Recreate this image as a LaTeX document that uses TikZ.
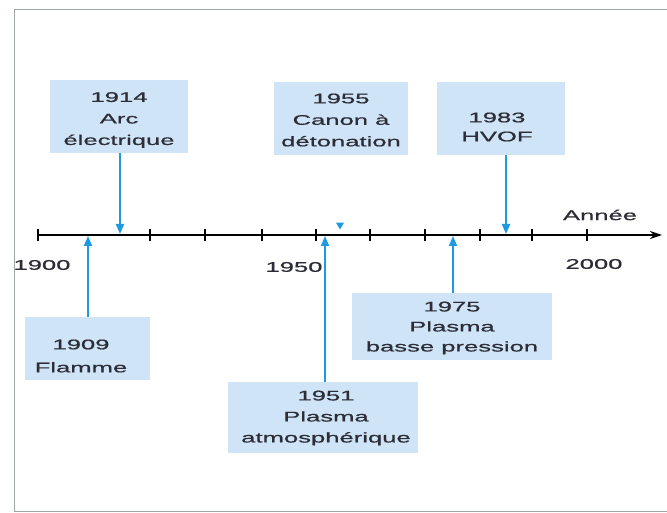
\documentclass[tikz,border=0pt]{standalone}
\usepackage{fontspec}
\setmainfont{Liberation Sans}[FakeStretch=1.83,FakeBold=0.8]
\usetikzlibrary{arrows.meta,shapes.geometric}
\definecolor{boxfill}{RGB}{207,228,246}
\definecolor{arrowblue}{RGB}{30,155,224}
\definecolor{txt}{RGB}{45,45,55}
\definecolor{framegray}{RGB}{160,165,168}
\begin{document}
\begin{tikzpicture}[x=1pt,y=-1pt,
  evbox/.style={fill=boxfill,draw=none,inner sep=0pt,anchor=north west},
  evtext/.style={align=center,text=txt,font=\fontsize{14}{21.5}\selectfont,inner sep=0pt},
  evarrow/.style={arrowblue,line width=1.8pt,-{Triangle[length=10pt,width=8pt]}},
  yearlab/.style={text=txt,font=\fontsize{14}{17}\selectfont},
  tick/.style={line width=1.6pt,black}]
\useasboundingbox (0,0) rectangle (667,513);
% frame
\draw[framegray,line width=1pt] (667,10) -- (14,10) -- (14,511) -- (667,511);
% axis
\coordinate (ax0) at (38,235);
\coordinate (axend) at (662,235);
\draw[line width=1.6pt,-{Stealth[length=12pt,width=8pt]}] (ax0) -- (axend);
\foreach \x in {38,150,205,262,316,370,425,480,532,587}
  \draw[tick] (\x,229) -- (\x,241);
\node[yearlab] (y1900) at (42,265) {1900};
\node[yearlab] (y1950) at (294,267) {1950};
\node[yearlab] (y2000) at (594,264) {2000};
\node[yearlab] (annee) at (600,215) {Année};
% boxes
\node[evbox,minimum width=138pt,minimum height=73pt] (b1914) at (50,80) {};
\node[evbox,minimum width=134pt,minimum height=73pt] (b1955) at (274,82) {};
\node[evbox,minimum width=128pt,minimum height=73pt] (b1983) at (437,82) {};
\node[evbox,minimum width=125pt,minimum height=63pt] (b1909) at (25,317) {};
\node[evbox,minimum width=190pt,minimum height=71pt] (b1951) at (228,382) {};
\node[evbox,minimum width=200pt,minimum height=67pt] (b1975) at (352,293) {};
% texts
\node[evtext] (t1914) at (119,120) {1914\\Arc\\électrique};
\node[evtext] (t1955) at (341,120) {1955\\Canon à\\détonation};
\node[evtext,font=\fontsize{14}{19}\selectfont] (t1983) at (497,127) {1983\\HVOF};
\node[evtext,font=\fontsize{14}{23}\selectfont] (t1909) at (81,356) {1909\\Flamme};
\node[evtext,font=\fontsize{14}{21}\selectfont] (t1951) at (326,418) {1951\\Plasma\\atmosphérique};
\node[evtext,font=\fontsize{14}{20}\selectfont] (t1975) at (452,328) {1975\\Plasma\\basse pression};
% arrow targets on axis
\coordinate (a1914) at (120,234);
\coordinate (a1983) at (506,234);
\coordinate (a1909) at (88,236);
\coordinate (a1951) at (325,236);
\coordinate (a1975) at (453,236);
\draw[evarrow] (b1914.south -| a1914) -- (a1914);
\draw[evarrow] (b1983.south -| a1983) -- (a1983);
\draw[evarrow] (b1909.north -| a1909) -- (a1909);
\draw[evarrow] (b1951.north -| a1951) -- (a1951);
\draw[evarrow] (b1975.north -| a1975) -- (a1975);
% small marker
\node[fill=arrowblue,regular polygon,regular polygon sides=3,shape border rotate=180,inner sep=1.6pt,draw=none] (mark) at (340,225) {};
\end{tikzpicture}
\end{document}
